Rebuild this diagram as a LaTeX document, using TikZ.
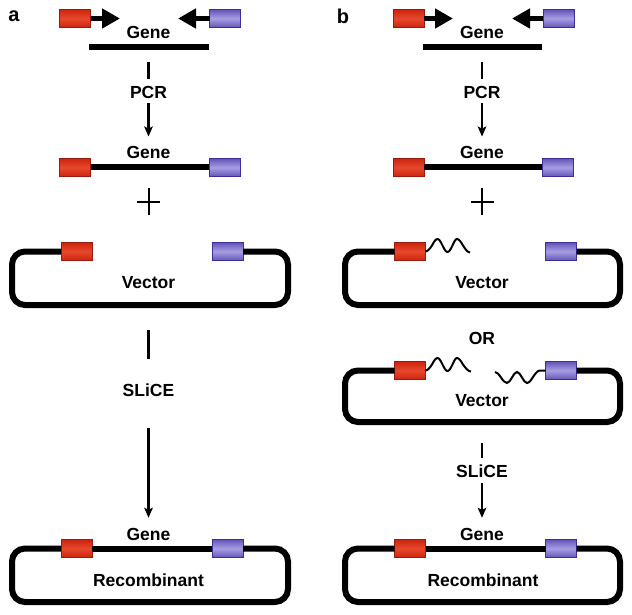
\documentclass[tikz,border=0pt]{standalone}
\usepackage{fontspec}
\setmainfont{Liberation Sans}
\usetikzlibrary{arrows.meta}
\definecolor{redfill}{HTML}{CC2410}
\definecolor{redmid}{HTML}{E8482A}
\definecolor{redline}{HTML}{9A1A10}
\definecolor{bluefill}{HTML}{6154B8}
\definecolor{bluemid}{HTML}{A89EE2}
\definecolor{blueline}{HTML}{3A2E98}
\tikzset{
  redbox/.style={draw=redline, line width=1pt, top color=redfill, bottom color=redfill, middle color=redmid,
    minimum width=31pt, minimum height=18pt, inner sep=0pt, outer sep=0pt},
  bluebox/.style={draw=blueline, line width=1pt, top color=bluefill, bottom color=bluefill, middle color=bluemid,
    minimum width=31pt, minimum height=18pt, inner sep=0pt, outer sep=0pt},
  lbl/.style={font=\fontsize{17.5}{20}\selectfont\bfseries, inner sep=0pt, text height=12.5pt, text depth=0pt},
  panel/.style={font=\fontsize{20}{24}\selectfont\bfseries, inner sep=0pt},
  genebar/.style={fill=black, minimum height=6pt, inner sep=0pt, outer sep=0pt},
  dna/.style={line width=6pt},
  loopline/.style={line width=6pt, rounded corners=13pt},
  flow/.style={line width=2.4pt, -{Stealth[length=10pt,width=8.5pt,inset=2pt]}},
  flowline/.style={line width=2.4pt},
  primer/.style={line width=5.5pt, -{Triangle[length=18pt,width=19pt]}},
  wave/.style={line width=2pt},
  plusmark/.style={line width=2pt}
}
\begin{document}
\begin{tikzpicture}[x=1pt,y=-1pt]
\useasboundingbox (0,0) rectangle (632,615);
% ---------------- panel a ----------------
\node[panel] (la) at (14,16) {a};
\node[redbox] (pA1) at (75,18.5) {};
\node[bluebox] (qA1) at (225,18.5) {};
\coordinate (tA1) at (120,18.5);
\coordinate (tA2) at (178,18.5);
\draw[primer] (pA1) -- (tA1);
\draw[primer] (qA1) -- (tA2);
\node[lbl] (gA1) at (148.5,32) {Gene};
\node[genebar, minimum width=120pt] (barA) at (148.5,47) {};
\node[lbl] (pcrA) at (148.5,92) {PCR};
\node[lbl] (gA2) at (148.5,152) {Gene};
\draw[flowline, shorten <=12pt, shorten >=7pt] (barA) -- (pcrA);
\draw[flow, shorten <=5pt, shorten >=9pt] (pcrA) -- (gA2);
\node[redbox] (pA2) at (75,167.5) {};
\node[bluebox] (qA2) at (224.5,167.5) {};
\draw[dna] (pA2) -- (qA2);
\draw[plusmark] (148.5,188) -- (148.5,215) (137,202) -- (160,202);
% vector a
\node[redbox] (pA3) at (76.5,251.5) {};
\node[bluebox] (qA3) at (227.5,251.5) {};
\draw[loopline] (pA3.west) -- (12,251.5) -- (12,305) -- (288,305) -- (288,251.5) -- (qA3.east);
\node[lbl] (vA) at (148.5,282) {Vector};
\coordinate (vbA) at (148.5,305);
\node[lbl] (sA) at (148.5,390) {SLiCE};
\node[lbl] (gA3) at (148.5,534) {Gene};
\draw[flowline, shorten <=25pt, shorten >=24.75pt] (vbA) -- (sA);
\draw[flow, shorten <=31.75pt, shorten >=9.75pt] (sA) -- (gA3);
% recombinant a
\node[redbox] (pA4) at (76.5,548.5) {};
\node[bluebox] (qA4) at (227.5,548.5) {};
\draw[loopline] (pA4.west) -- (12,548.5) -- (12,602) -- (288,602) -- (288,548.5) -- (qA4.east);
\draw[dna] (pA4) -- (qA4);
\node[lbl] (rA) at (148.5,580) {Recombinant};
% ---------------- panel b ----------------
\node[panel] (lb) at (343,16) {b};
\node[redbox] (pB1) at (408.5,18.5) {};
\node[bluebox] (qB1) at (558.5,18.5) {};
\coordinate (tB1) at (453,18.5);
\coordinate (tB2) at (512,18.5);
\draw[primer] (pB1) -- (tB1);
\draw[primer] (qB1) -- (tB2);
\node[lbl] (gB1) at (482,32) {Gene};
\node[genebar, minimum width=119pt] (barB) at (482,47) {};
\node[lbl] (pcrB) at (482,92) {PCR};
\node[lbl] (gB2) at (482,152) {Gene};
\draw[flowline, shorten <=12pt, shorten >=7pt] (barB) -- (pcrB);
\draw[flow, shorten <=5pt, shorten >=9pt] (pcrB) -- (gB2);
\node[redbox] (pB2) at (408.5,167.5) {};
\node[bluebox] (qB2) at (557.5,167.5) {};
\draw[dna] (pB2) -- (qB2);
\draw[plusmark] (482,188) -- (482,215) (470.5,202) -- (493.5,202);
% vector b, first
\node[redbox] (pB3) at (410,251.5) {};
\node[bluebox] (qB3) at (561,251.5) {};
\draw[loopline] (pB3.west) -- (345,251.5) -- (345,305) -- (620,305) -- (620,251.5) -- (qB3.east);
\draw[wave] (pB3.east) cos (432,245.5) sin (437.5,239) cos (442.5,245.5) sin (447.5,252)
  cos (452.5,245.5) sin (457,239) cos (463,245.5) sin (470,252.5);
\node[lbl] (vB1) at (482,282) {Vector};
\node[lbl] (orB) at (482,338) {OR};
% vector b, second
\node[redbox] (pB4) at (410,370.5) {};
\node[bluebox] (qB4) at (561,370.5) {};
\draw[loopline] (pB4.west) -- (345,370.5) -- (345,422) -- (620,422) -- (620,370.5) -- (qB4.east);
\draw[wave] (pB4.east) cos (432,364.5) sin (437.5,358) cos (442.5,364.5) sin (447.5,371)
  cos (452.5,364.5) sin (457,358) cos (463,364.5) sin (471,371.5);
\draw[wave] (495,372) cos (501,377.5) sin (507,383) cos (512,377.5) sin (517,372)
  cos (522,377.5) sin (527,383) cos (533,377) sin (540,370.5) -- (qB4.west);
\node[lbl] (vB2) at (482,400) {Vector};
\coordinate (vbB) at (482,422);
\node[lbl] (sB) at (482,471) {SLiCE};
\node[lbl] (gB3) at (482,534) {Gene};
\draw[flowline, shorten <=21pt, shorten >=6.75pt] (vbB) -- (sB);
\draw[flow, shorten <=5.75pt, shorten >=9.75pt] (sB) -- (gB3);
% recombinant b
\node[redbox] (pB5) at (410,548.5) {};
\node[bluebox] (qB5) at (561,548.5) {};
\draw[loopline] (pB5.west) -- (345,548.5) -- (345,602) -- (620,602) -- (620,548.5) -- (qB5.east);
\draw[dna] (pB5) -- (qB5);
\node[lbl] (rB) at (483,580) {Recombinant};
\end{tikzpicture}
\end{document}
